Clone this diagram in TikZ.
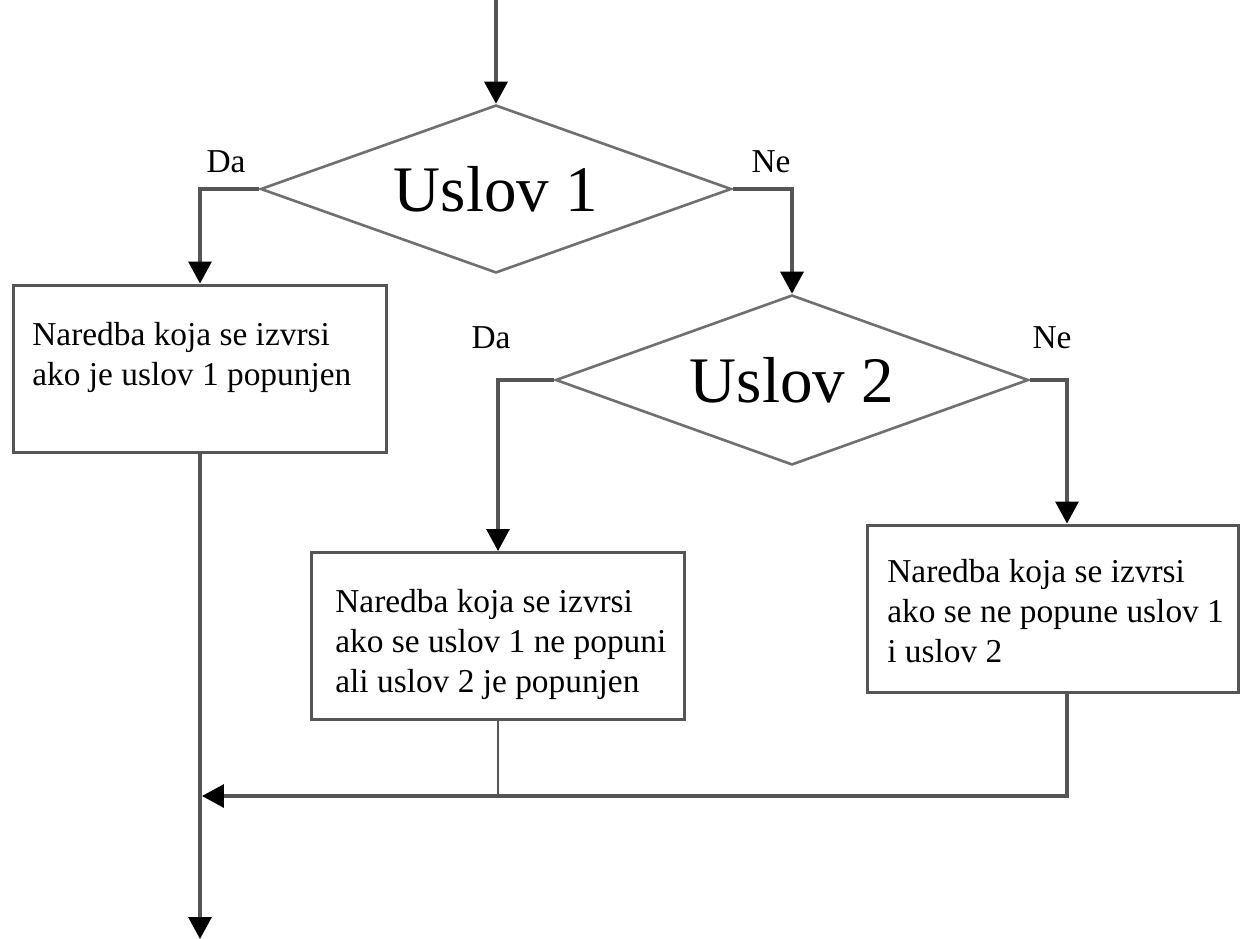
\documentclass[tikz,border=0pt]{standalone}
\usepackage{fontspec}
\setmainfont{Liberation Serif}
\usetikzlibrary{shapes.geometric,arrows.meta}
\definecolor{linegray}{RGB}{85,85,85}
\definecolor{shapegray}{RGB}{112,112,112}
\begin{document}
\begin{tikzpicture}[x=0.02cm,y=-0.02cm,
  decision/.style={diamond, shape aspect=2.8, draw=shapegray, line width=1.5pt,
    inner sep=0pt, font=\fontsize{37}{40}\selectfont},
  stmt/.style={rectangle, draw=linegray, line width=1.7pt, inner sep=0pt},
  stmttext/.style={anchor=north west, inner sep=0pt, align=left,
    font=\fontsize{19}{22.8}\selectfont},
  lbl/.style={inner sep=0pt, font=\fontsize{19}{22.8}\selectfont},
  flow/.style={draw=linegray, line width=1.8pt,
    -{Triangle[length=0.44cm,width=0.46cm,color=black]}},
  link/.style={draw=linegray, line width=1.8pt}
]
\useasboundingbox (0,0) rectangle (1241,939);

% decisions
\node[decision, minimum width=9.42cm, minimum height=3.36cm] (d1) at (496,189) {Uslov 1};
\node[decision, minimum width=9.46cm, minimum height=3.40cm] (d2) at (792,380) {Uslov 2};

% statement boxes
\node[stmt, minimum width=7.48cm, minimum height=3.36cm] (b1) at (200,369) {};
\node[stmt, minimum width=7.46cm, minimum height=3.34cm] (b2) at (498,636) {};
\node[stmt, minimum width=7.44cm, minimum height=3.36cm] (b3) at (1053,609) {};

% statement texts
\node[stmttext] (t1) at (32,322) {Naredba koja se izvrsi\\ako je uslov 1 popunjen};
\node[stmttext] (t2) at (335,589) {Naredba koja se izvrsi\\ako se uslov 1 ne popuni\\ali uslov 2 je popunjen};
\node[stmttext] (t3) at (887,559) {Naredba koja se izvrsi\\ako se ne popune uslov 1\\i uslov 2};

% branch labels
\node[lbl] (da1) at (226,162) {Da};
\node[lbl] (ne1) at (771,162) {Ne};
\node[lbl] (da2) at (491,338) {Da};
\node[lbl] (ne2) at (1052,338) {Ne};

% free ends
\coordinate (entry) at (496,0);
\coordinate (exit) at (200,939);
\coordinate (merge) at (202,796);

% connectors
\draw[flow] (entry) -- (d1.north);
\draw[flow] (d1.west) -| (b1.north);
\draw[flow] (d1.east) -| (d2.north);
\draw[flow] (d2.west) -| (b2.north);
\draw[flow] (d2.east) -| ([xshift=0.28cm]b3.north);
\draw[flow] (b1.south) -- (exit);
\draw[link, line width=1.2pt] (b2.south) -- (b2.south |- merge);
\draw[flow] ([xshift=0.28cm]b3.south) |- (merge);
\end{tikzpicture}
\end{document}
